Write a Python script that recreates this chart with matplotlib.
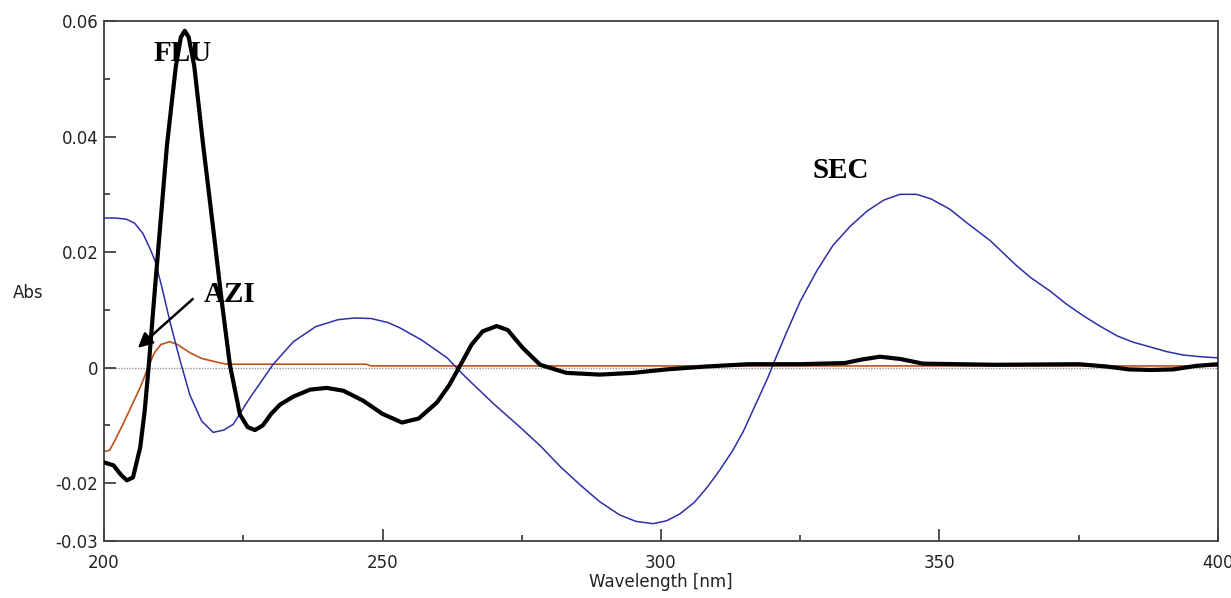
import matplotlib.pyplot as plt
from matplotlib.ticker import MultipleLocator

# FLU (thick black)
flu_nm = [200, 201.7, 203, 204.1, 205.2, 206.5, 207.3, 208.0, 209.0, 209.7, 211.3, 212.9, 213.8,
          214.5, 215.2, 216.2, 217.8, 219.6, 221.2, 222.6, 224.4, 225.8, 227.1, 228.5, 230, 231.6,
          234, 237, 240, 243, 246.5, 250, 253.5, 256.5, 259.8, 262, 263.9, 266, 268, 270.5, 272.5,
          275.2, 278.3, 283, 289, 295, 301, 308, 315.7, 325, 333, 336, 339.3, 343, 347, 360, 375,
          380, 384, 388, 392, 396, 400]
flu_abs = [-0.0164, -0.0169, -0.0185, -0.0195, -0.0190, -0.0138, -0.0075, 0.0000, 0.0120, 0.0201,
           0.0385, 0.0522, 0.0572, 0.0583, 0.0572, 0.0522, 0.0385, 0.0241, 0.0110, 0.0005, -0.0081,
           -0.0103, -0.0108, -0.0100, -0.0080, -0.0064, -0.0050, -0.0038, -0.0035, -0.0040, -0.0057,
           -0.0080, -0.0095, -0.0088, -0.0060, -0.0030, 0.0003, 0.0040, 0.0063, 0.0072, 0.0065,
           0.0034, 0.0005, -0.0009, -0.0012, -0.0009, -0.0003, 0.0002, 0.0006, 0.0006, 0.0008,
           0.0014, 0.0019, 0.0015, 0.0007, 0.0005, 0.0006, 0.0002, -0.0003, -0.0004, -0.0003,
           0.0003, 0.0006]

# SEC (thin blue)
sec_nm = [200, 202, 204, 205.5, 207, 208.3, 209.2, 210.5, 211.8, 213.5, 215.4, 217.5, 219.6, 221.5,
          223.2, 226, 230.3, 234, 238, 242, 245, 248, 251, 253.1, 257, 261.6, 265, 270, 274.7, 278.3,
          282, 285.5, 289, 292.6, 295.5, 298.6, 301, 303.4, 306, 308.3, 310.5, 312.9, 314.8, 316.5,
          319.2, 320.1, 322.5, 325, 328, 330.9, 334, 337, 340, 342.9, 345.9, 348.5, 351.9, 355,
          359.1, 363.9, 366.5, 369.8, 372.8, 375.8, 378.8, 381.9, 384.8, 387.8, 390.7, 393.7,
          396.8, 400]
sec_abs = [0.0259, 0.0259, 0.0257, 0.0250, 0.0232, 0.0205, 0.0184, 0.0135, 0.0081, 0.0018, -0.0047,
           -0.0092, -0.0112, -0.0108, -0.0098, -0.0055, 0.0005, 0.0045, 0.0071, 0.0083, 0.0086,
           0.0085, 0.0078, 0.0069, 0.0048, 0.0017, -0.0017, -0.0063, -0.0103, -0.0135, -0.0172,
           -0.0203, -0.0232, -0.0255, -0.0266, -0.0270, -0.0265, -0.0253, -0.0233, -0.0207, -0.0178,
           -0.0143, -0.0110, -0.0074, -0.0017, 0.0005, 0.0060, 0.0115, 0.0168, 0.0212, 0.0245,
           0.0271, 0.0290, 0.0300, 0.0300, 0.0292, 0.0274, 0.0250, 0.0220, 0.0176, 0.0155, 0.0133,
           0.0110, 0.0090, 0.0072, 0.0055, 0.0044, 0.0036, 0.0028, 0.0022, 0.0019, 0.0017]

# AZI (thin orange)
azi_nm = [200, 201, 202, 203.4, 205, 206.5, 207.9, 209, 210.2, 211.8, 213.2, 215.4, 217.5, 220.5,
          222, 247, 248, 400]
azi_abs = [-0.0145, -0.0143, -0.0125, -0.0098, -0.0065, -0.0034, 0.0000, 0.0025, 0.0040, 0.0045,
           0.0040, 0.0026, 0.0016, 0.0009, 0.0006, 0.0006, 0.0003, 0.0003]

fig = plt.figure(figsize=(12.31, 5.98), dpi=100)
ax = fig.add_axes([0.0845, 0.0953, 0.9049, 0.8696])

ax.axhline(0, color="#999999", lw=1.0, ls=(0, (1, 1)), zorder=1)
ax.plot(azi_nm, azi_abs, color="#C0501A", lw=1.2, zorder=2)
ax.plot(sec_nm, sec_abs, color="#2E2EA8", lw=1.1, zorder=3)
ax.plot(flu_nm, flu_abs, color="black", lw=3.0, zorder=4, solid_joinstyle="round")

ax.set_xlim(200, 400)
ax.set_ylim(-0.03, 0.06)
ax.xaxis.set_major_locator(MultipleLocator(50))
ax.xaxis.set_minor_locator(MultipleLocator(25))
ax.yaxis.set_minor_locator(MultipleLocator(0.01))
ax.set_yticks([-0.03, -0.02, 0, 0.02, 0.04, 0.06])
ax.set_yticklabels(["-0.03", "-0.02", "0", "0.02", "0.04", "0.06"])

ax.tick_params(which="both", direction="in", colors="#333333", labelcolor="#222222",
               labelsize=12, width=1.2)
ax.tick_params(axis="y", which="major", length=8.5, pad=4)
ax.tick_params(axis="y", which="minor", length=4)
ax.tick_params(axis="x", which="major", length=9, pad=9)
ax.tick_params(axis="x", which="minor", length=4.5)
for s in ax.spines.values():
    s.set_color("#404040")
    s.set_linewidth(1.3)

ax.set_xlabel("Wavelength [nm]", fontsize=12, color="#222222", labelpad=1)
ax.set_ylabel("Abs", fontsize=12, color="#222222", rotation=0, ha="center", va="center")
ax.yaxis.set_label_coords(-0.068, 0.477)

lab = dict(fontsize=21, fontweight="bold", family="Liberation Serif", ha="center", va="center")
ax.text(214.2, 0.0543, "FLU", **lab)
ax.text(332.3, 0.0341, "SEC", **lab)
ax.text(222.6, 0.0127, "AZI", **lab)
ax.annotate("", xy=(205.7, 0.0031), xytext=(216.3, 0.0122),
            arrowprops=dict(arrowstyle="-|>", color="black", lw=1.8, mutation_scale=22))

fig.savefig("out.png", dpi=100)
